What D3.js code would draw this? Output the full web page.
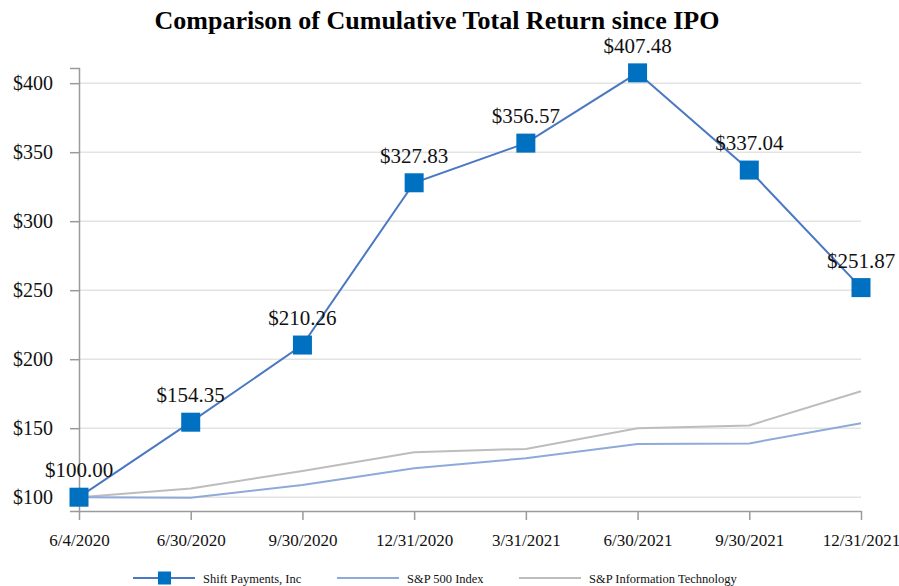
<!DOCTYPE html>
<html>
<head>
<meta charset="utf-8">
<script src="https://cdn.jsdelivr.net/npm/d3@7"></script>
<style>
  body { margin: 0; background: #fff; }
  svg { display: block; font-family: "Liberation Serif", "Times New Roman", serif; }
</style>
</head>
<body>
<div id="chart"></div>
<script>
// data
const dates = ["6/4/2020", "6/30/2020", "9/30/2020", "12/31/2020", "3/31/2021", "6/30/2021", "9/30/2021", "12/31/2021"]
const shift = [100.00, 154.35, 210.26, 327.83, 356.57, 407.48, 337.04, 251.87]
const sp500 = [100, 99.6, 108.8, 121, 128.2, 138.5, 139, 153.6]
const spTech = [100, 106.3, 119, 132.6, 135, 150, 152, 176.8]
const yTicks = [100, 150, 200, 250, 300, 350, 400]

async function drawChart() {
    const dims = { width: 899, height: 586 }

    const svg = d3.select("#chart")
        .append("svg")
        .attr("width", dims.width)
        .attr("height", dims.height)

    //---------------- scales
    const x = d3.scalePoint()
        .domain(dates)
        .range([79, 861])

    const y = d3.scaleLinear()
        .domain([90, 411])
        .range([511, 68])

    //---------------- title
    svg.append("text")
        .attr("x", 437)
        .attr("y", 29)
        .attr("text-anchor", "middle")
        .style("font-size", "26px")
        .style("font-weight", "bold")
        .text("Comparison of Cumulative Total Return since IPO")

    //---------------- gridlines
    svg.append("g")
        .selectAll("line")
        .data(yTicks)
        .join("line")
        .attr("x1", 79)
        .attr("x2", 861)
        .attr("y1", d => y(d))
        .attr("y2", d => y(d))
        .attr("stroke", "#e3e3e3")
        .attr("stroke-width", 1.5)

    //---------------- y axis
    const yAxis = svg.append("g")
        .attr("transform", "translate(79,0)")
        .call(d3.axisLeft(y).tickValues(yTicks).tickFormat(d => "$" + d).tickSize(9).tickPadding(17))
    yAxis.select(".domain").attr("stroke", "#9a9a9a").attr("stroke-width", 1.5)
    yAxis.selectAll(".tick line").attr("stroke", "#9a9a9a").attr("stroke-width", 1.5)
    yAxis.selectAll(".tick text")
        .attr("fill", "#111")
        .style("font-size", "20px")
        .style("font-family", "Liberation Serif, serif")

    //---------------- x axis
    const xAxis = svg.append("g")
        .attr("transform", `translate(0,${y(90)})`)
        .call(d3.axisBottom(x).tickSize(9).tickSizeOuter(0).tickPadding(14))
    xAxis.select(".domain").attr("stroke", "#9a9a9a").attr("stroke-width", 1.5)
    xAxis.selectAll(".tick line").attr("stroke", "#9a9a9a").attr("stroke-width", 1.5)
    xAxis.selectAll(".tick text")
        .attr("fill", "#111")
        .style("font-size", "17px")
        .style("font-family", "Liberation Serif, serif")

    //---------------- lines
    const line = d3.line()
        .x((d, i) => x(dates[i]))
        .y(d => y(d))

    svg.append("path")
        .datum(spTech)
        .attr("d", line)
        .attr("fill", "none")
        .attr("stroke", "#bdbdbd")
        .attr("stroke-width", 2)

    svg.append("path")
        .datum(sp500)
        .attr("d", line)
        .attr("fill", "none")
        .attr("stroke", "#8eaadb")
        .attr("stroke-width", 2)

    svg.append("path")
        .datum(shift)
        .attr("d", line)
        .attr("fill", "none")
        .attr("stroke", "#4a78c2")
        .attr("stroke-width", 2)

    const sq = 19
    svg.append("g")
        .selectAll("rect")
        .data(shift)
        .join("rect")
        .attr("x", (d, i) => x(dates[i]) - sq / 2)
        .attr("y", d => y(d) - sq / 2)
        .attr("width", sq)
        .attr("height", sq)
        .attr("fill", "#0070c0")

    // value labels above each square
    svg.append("g")
        .selectAll("text")
        .data(shift)
        .join("text")
        .attr("x", (d, i) => x(dates[i]))
        .attr("y", d => y(d) - 20)
        .attr("text-anchor", "middle")
        .attr("fill", "#111")
        .style("font-size", "21px")
        .text(d => "$" + d3.format(".2f")(d))

    //---------------- legend
    const legend = [
        { name: "Shift Payments, Inc", color: "#4a78c2", x: 133, marker: true },
        { name: "S&P 500 Index", color: "#8eaadb", x: 337, marker: false },
        { name: "S&P Information Technology", color: "#bdbdbd", x: 519, marker: false }
    ]
    const lg = svg.append("g").attr("transform", "translate(0,578)")
    legend.forEach(d => {
        lg.append("line")
            .attr("x1", d.x).attr("x2", d.x + 62)
            .attr("y1", 0).attr("y2", 0)
            .attr("stroke", d.color)
            .attr("stroke-width", 2)
        if (d.marker) {
            lg.append("rect")
                .attr("x", d.x + 25).attr("y", -6.5)
                .attr("width", 13).attr("height", 13)
                .attr("fill", "#0070c0")
        }
        lg.append("text")
            .attr("x", d.x + 70)
            .attr("y", 4.5)
            .attr("fill", "#111")
            .style("font-size", "12.5px")
            .text(d.name)
    })
}
drawChart()
</script>
</body>
</html>
